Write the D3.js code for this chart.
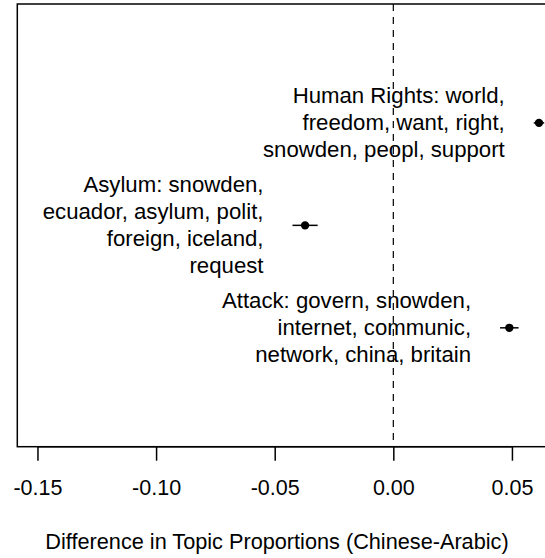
<!DOCTYPE html>
<html>
<head>
<meta charset="utf-8">
<script src="https://cdn.jsdelivr.net/npm/d3@7"></script>
<style>
  body { margin: 0; background: #fff; }
  text { font-family: "Liberation Sans", Arial, Helvetica, sans-serif; fill: #000; }
</style>
</head>
<body>
<svg id="chart" width="545" height="558"></svg>
<script>
// topic labels (top to bottom), estimates and half-width of the intervals
const topics = [
    ["Human Rights: world,", "freedom, want, right,", "snowden, peopl, support"],
    ["Asylum: snowden,", "ecuador, asylum, polit,", "foreign, iceland,", "request"],
    ["Attack: govern, snowden,", "internet, communic,", "network, china, britain"]
];
const positions = [3, 2, 1];
const estimates = [0.0614, -0.0372, 0.0489];
const halfWidths = [0.0022, 0.0053, 0.0039];
const xTicks = [-0.15, -0.10, -0.05, 0.00, 0.05];

const svg = d3.select("#chart");

// plot region (right side runs past the window, as in the original)
const plotLeft = 17.3, plotTop = 4, plotBottom = 446.7;
const x = d3.scaleLinear().domain([-0.1585, 0.0773]).range([plotLeft, 576.7]);
const y = d3.scaleLinear().domain([-0.16, 4.16]).range([plotBottom, plotTop]);

const LINE_H = 27;

// box
svg.append("rect")
    .attr("x", plotLeft)
    .attr("y", plotTop)
    .attr("width", x(0.0773) - plotLeft)
    .attr("height", plotBottom - plotTop)
    .attr("fill", "none")
    .attr("stroke", "#000")
    .attr("stroke-width", 1.5);

// reference line at zero
svg.append("line")
    .attr("x1", x(0)).attr("x2", x(0))
    .attr("y1", plotTop).attr("y2", plotBottom)
    .attr("stroke", "#000")
    .attr("stroke-width", 1.2)
    .attr("stroke-dasharray", "7,6");

// x axis
const axis = d3.axisBottom(x)
    .tickValues(xTicks)
    .tickFormat(d => d3.format(".2f")(d).replace("−", "-"))
    .tickSize(14)
    .tickPadding(19);

const gx = svg.append("g")
    .attr("transform", `translate(0,${plotBottom})`)
    .call(axis);
gx.select(".domain").attr("d", `M${x(-0.15)},0H${x(0.05)}`).attr("stroke-width", 1.5);
gx.selectAll(".tick line").attr("stroke-width", 1.5);
gx.selectAll(".tick text")
    .attr("font-size", 21.5)
    .attr("font-family", "Liberation Sans, Arial, sans-serif");

// axis title
svg.append("text")
    .attr("x", 277)
    .attr("y", 549)
    .attr("text-anchor", "middle")
    .attr("font-size", 21.7)
    .text("Difference in Topic Proportions (Chinese-Arabic)");

// intervals and points
const g = svg.append("g");
topics.forEach((lines, i) => {
    const cy = y(positions[i]);
    const lo = estimates[i] - halfWidths[i];
    const hi = estimates[i] + halfWidths[i];

    g.append("line")
        .attr("x1", x(lo)).attr("x2", x(hi))
        .attr("y1", cy).attr("y2", cy)
        .attr("stroke", "#000")
        .attr("stroke-width", 1.5);

    g.append("circle")
        .attr("cx", x(estimates[i]))
        .attr("cy", cy)
        .attr("r", 4.2)
        .attr("fill", "#000");

    // label, right aligned, just left of the interval
    const n = lines.length;
    const t = g.append("text")
        .attr("text-anchor", "end")
        .attr("font-size", 22.2);
    lines.forEach((s, j) => {
        t.append("tspan")
            .attr("x", x(lo) - 29)
            .attr("y", cy + (j - (n - 1) / 2) * LINE_H + 7.5)
            .text(s);
    });
});
</script>
</body>
</html>
